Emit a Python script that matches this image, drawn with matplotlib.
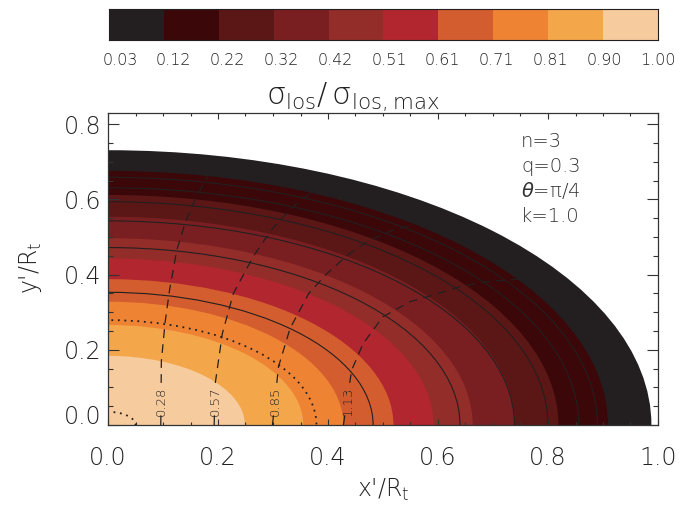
import numpy as np
import matplotlib.pyplot as plt
from matplotlib.patches import Ellipse
from matplotlib.colors import ListedColormap
from matplotlib.transforms import ScaledTranslation

plt.rcParams['font.family'] = ['DejaVu Sans']
plt.rcParams['font.weight'] = 'light'
plt.rcParams['mathtext.fontset'] = 'custom'
plt.rcParams['mathtext.rm'] = 'DejaVu Sans:light'
plt.rcParams['mathtext.it'] = 'DejaVu Sans:italic'
plt.rcParams['mathtext.bf'] = 'DejaVu Sans:bold'

# sigma_los / sigma_los,max levels and band colours
levels = [0.03, 0.12, 0.22, 0.32, 0.42, 0.51, 0.61, 0.71, 0.81, 0.90, 1.00]
band_colors = ['#231f20', '#3b0709', '#5a1716', '#7a1f21', '#932d29',
               '#b1262f', '#d35d2e', '#ee8433', '#f3a64a', '#f6cb9e']

# semi-axes (x, y) of the contour boundary at each lower level
bound_a = [0.988, 0.909, 0.819, 0.740, 0.663, 0.592, 0.519, 0.428, 0.355, 0.249]
bound_b = [0.731, 0.676, 0.612, 0.554, 0.497, 0.443, 0.388, 0.328, 0.266, 0.184]

# solid and dotted elliptical contours
solid_a = [0.482, 0.640, 0.739, 0.800, 0.856, 0.890]
solid_b = [0.353, 0.472, 0.543, 0.594, 0.631, 0.659]
dotted_a = [0.379, 0.050]
dotted_b = [0.279, 0.035]

# dashed velocity contours
vel_labels = ['0.28', '0.57', '0.85', '1.13']
vel_x = [
    [0.096, 0.097, 0.104, 0.112, 0.125, 0.140, 0.154, 0.164, 0.182],
    [0.193, 0.195, 0.208, 0.228, 0.264, 0.297, 0.322, 0.340, 0.367],
    [0.299, 0.310, 0.331, 0.365, 0.398, 0.440, 0.476, 0.519, 0.555],
    [0.428, 0.443, 0.464, 0.500, 0.549, 0.592, 0.640, 0.688, 0.745],
]
vel_y = [
    [0.0, 0.170, 0.275, 0.360, 0.465, 0.536, 0.585, 0.616, 0.662],
    [0.0, 0.111, 0.244, 0.350, 0.448, 0.519, 0.559, 0.585, 0.616],
    [0.0, 0.155, 0.257, 0.350, 0.403, 0.457, 0.492, 0.519, 0.532],
    [0.0, 0.146, 0.217, 0.288, 0.328, 0.346, 0.368, 0.381, 0.388],
]

params = ['n=3', 'q=0.3', r'$\theta$=$\mathrm{\pi}$/4', 'k=1.0']

W, H = 693, 507
fig = plt.figure(figsize=(W / 100, H / 100), dpi=100)
tc = '#222222'

# main panel
ax = fig.add_axes([108 / W, (H - 425) / H, 550 / W, 312 / H])
for i in range(len(band_colors)):
    ax.add_patch(Ellipse((0, 0), 2 * bound_a[i], 2 * bound_b[i],
                         facecolor=band_colors[i], edgecolor='none', zorder=1))
for a, b in zip(solid_a, solid_b):
    ax.add_patch(Ellipse((0, 0), 2 * a, 2 * b, facecolor='none',
                         edgecolor='#231f20', lw=0.8, zorder=2))
for a, b in zip(dotted_a, dotted_b):
    ax.add_patch(Ellipse((0, 0), 2 * a, 2 * b, facecolor='none',
                         edgecolor='#231f20', lw=1.3, ls=(0, (1, 2.6)), zorder=2))

y_lo, y_hi, y_lab = 0.024, 0.112, 0.064
for xs, ys, lab in zip(vel_x, vel_y, vel_labels):
    xs = np.array(xs)
    ys = np.array(ys)
    x_lo = np.interp(y_lo, ys, xs)
    x_hi = np.interp(y_hi, ys, xs)
    keep = ys > y_hi
    ax.plot([xs[0], x_lo], [0, y_lo], color='#231f20', lw=0.9, zorder=3)
    ax.plot(np.r_[x_hi, xs[keep]], np.r_[y_hi, ys[keep]], color='#231f20',
            lw=0.9, ls=(0, (7, 5)), zorder=3)
    ax.text(np.interp(y_lab, ys, xs), y_lab, lab, rotation=90, ha='center',
            va='center', fontsize=9.5, color=tc, zorder=4)

for i, s in enumerate(params):
    ax.text(0.751, 0.739 - i * 0.066, s, fontsize=14, color='#333333',
            ha='left', va='baseline')

ax.set_xlim(0, 1.0)
ax.set_ylim(0, 0.83)
ax.set_xticks(np.arange(0, 1.01, 0.2))
ax.set_xticks(np.arange(0, 1.01, 0.05), minor=True)
ax.set_yticks(np.arange(0, 0.81, 0.2))
ax.set_yticks(np.arange(0, 0.83, 0.05), minor=True)
ax.set_xticklabels(['%.1f' % v for v in np.arange(0, 1.01, 0.2)])
ax.set_yticklabels(['%.1f' % v for v in np.arange(0, 0.81, 0.2)])
ax.tick_params(which='both', direction='in', top=True, right=True,
               colors='#333333', labelcolor=tc, labelsize=17, width=0.8)
ax.tick_params(axis='x', which='major', length=4.5, pad=15)
ax.tick_params(axis='x', which='minor', length=2.3)
ax.tick_params(axis='y', which='major', length=8, pad=5)
ax.tick_params(axis='y', which='minor', length=3.6)
for sp in ax.spines.values():
    sp.set_color('#333333')
    sp.set_linewidth(0.9)
lab0 = ax.get_yticklabels()[0]
lab0.set_transform(lab0.get_transform() + ScaledTranslation(0, 0.11, fig.dpi_scale_trans))

fig.text(30 / W, 1 - 268 / H, "y'/R$_{\\rm t}$", rotation=90, ha='center',
         va='center', fontsize=17, color=tc)
fig.text(383 / W, 1 - 490 / H, "x'/R$_{\\rm t}$", ha='center', va='center',
         fontsize=17, color=tc)

# colour bar
cax = fig.add_axes([109 / W, (H - 40.3) / H, 549 / W, 31.7 / H])
cax.imshow(np.arange(len(band_colors))[None, :], cmap=ListedColormap(band_colors),
           aspect='auto', extent=[0, 10, 0, 1], interpolation='nearest')
cax.set_xlim(0, 10)
cax.set_yticks([])
pos = [i + 0.2 * (1 - i / 10) for i in range(len(levels))]
cax.set_xticks(pos)
cax.set_xticklabels(['%.2f' % v for v in levels])
cax.tick_params(axis='x', length=0, pad=9, labelsize=11.5, labelcolor=tc)
for sp in cax.spines.values():
    sp.set_color('#231f20')
    sp.set_linewidth(0.8)

fig.text(353 / W, 1 - 97 / H,
         r'$\mathrm{\sigma}_{\rm los}/\,\mathrm{\sigma}_{\rm los,max}$',
         ha='center', va='center', fontsize=22, color=tc)

fig.savefig('out.png', dpi=100)
